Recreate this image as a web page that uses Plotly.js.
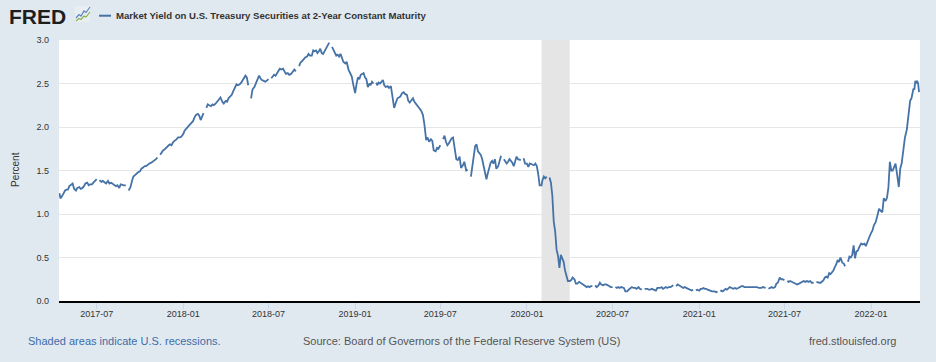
<!DOCTYPE html>
<html><head><meta charset="utf-8">
<script src="https://cdn.plot.ly/plotly-3.0.1.min.js"></script>
<style>html,body{margin:0;padding:0;background:#e1e9f0;} #chart{width:936px;height:362px;}</style>
</head><body><div id="chart"></div>
<script>
const seriesName = "Market Yield on U.S. Treasury Securities at 2-Year Constant Maturity";
const firstDate = "2017-04-13";
const lastDate = "2022-04-16";
const months = ["2017-04","2017-05","2017-06","2017-07","2017-08","2017-09","2017-10","2017-11","2017-12",
"2018-01","2018-02","2018-03","2018-04","2018-05","2018-06","2018-07","2018-08","2018-09","2018-10","2018-11","2018-12",
"2019-01","2019-02","2019-03","2019-04","2019-05","2019-06","2019-07","2019-08","2019-09","2019-10","2019-11","2019-12",
"2020-01","2020-02","2020-03","2020-04","2020-05","2020-06","2020-07","2020-08","2020-09","2020-10","2020-11","2020-12",
"2021-01","2021-02","2021-03","2021-04","2021-05","2021-06","2021-07","2021-08","2021-09","2021-10","2021-11","2021-12",
"2022-01","2022-02","2022-03","2022-04"];
const yields2017 = [
 [1.24,1.18,1.20,1.22,1.25,1.27,1.28],
 [1.28,1.32,1.33,1.35,1.29,1.27,1.30,1.31,1.29],
 [1.30,1.32,1.35,1.36,1.33,1.34,1.34,1.36,1.38],
 [1.40,null,1.39,1.37,1.38,1.36,1.35,1.38,1.35],
 [1.36,1.35,1.34,1.32,1.33,1.30,1.34,1.33,1.33],
 [1.33,null,1.27,1.31,1.38,1.43,1.45,1.47,1.48],
 [1.49,1.52,1.53,1.55,1.55,1.57,1.58,1.59,1.60],
 [1.61,1.63,1.65,null,1.68,1.71,1.73,1.74,1.76,1.78],
 [1.79,1.80,1.79,1.83,1.84,1.86,1.88,1.88,1.89]];
const yields2018 = [
 [1.92,1.96,1.98,2.00,2.02,2.03,2.05,2.07,2.11,2.14],
 [2.15,2.13,2.08,2.13,2.16,null,2.22,2.26,2.25],
 [2.24,2.26,2.25,2.27,2.29,2.31,2.34,2.29,2.27],
 [2.30,2.29,2.33,2.35,2.37,2.41,2.45,2.49,2.48],
 [2.49,2.51,2.54,2.56,2.59,2.57,2.48,null,2.33,2.43],
 [2.46,2.50,2.52,2.59,2.56,2.54,2.53,2.52,2.53],
 [2.55,null,2.56,2.58,2.60,2.59,2.62,2.65,2.67,2.66],
 [2.67,2.64,2.61,2.62,2.60,2.61,2.63,2.66,2.64],
 [null,2.70,2.74,2.76,2.78,2.80,2.81,2.84,2.82],
 [2.82,2.88,2.87,2.88,2.85,2.87,2.90,2.85,2.84,2.87],
 [2.91,2.95,2.97,null,2.92,2.88,2.86,2.82,2.83,2.81],
 [2.84,2.80,2.75,2.73,2.75,2.66,2.63,2.58,2.49]];
const yields2019 = [
 [2.39,2.49,2.57,2.55,2.60,2.61,2.62,2.57,2.55,2.46],
 [2.50,2.48,2.52,2.50,null,2.51,2.48,2.51,2.50,2.52],
 [2.54,2.48,2.46,2.47,2.45,2.47,2.34,2.22,2.27],
 [2.33,2.34,2.35,2.39,2.40,2.38,2.37,2.30,2.28],
 [2.31,2.33,2.29,2.26,2.23,2.21,2.19,2.14,2.04],
 [1.85,1.88,1.83,1.86,1.84,1.73,1.72,1.76,1.75],
 [1.79,null,1.86,1.90,1.83,1.79,1.81,1.84,1.87,1.88],
 [1.73,1.63,1.62,1.66,1.53,1.56,1.60,1.50,1.51],
 [null,1.43,1.55,1.67,1.78,1.80,1.72,1.70,1.68,1.63],
 [1.56,1.47,1.40,1.47,1.55,1.59,1.61,1.58,1.63,1.52],
 [1.55,1.61,1.67,null,1.63,1.60,1.58,1.60,1.63,1.61],
 [1.59,1.55,1.61,1.66,1.63,1.62,1.62,null,1.64,1.58]];
const yields2020 = [
 [1.58,1.54,1.58,1.57,1.56,1.56,1.58,1.55,1.46,1.33],
 [1.33,1.39,1.43,1.41,1.43,null,1.42,1.36,1.21,0.91],
 [0.80,0.59,0.52,0.38,0.53,0.49,0.45,0.35,0.28,0.23],
 [0.23,0.24,0.27,0.25,0.20,0.20,0.22,0.21,0.20],
 [0.19,0.18,0.16,0.17,0.16,0.17,0.17,null,0.18,0.16],
 [0.18,0.21,0.19,0.18,0.19,0.19,0.18,0.17,0.16],
 [0.16,null,0.16,0.15,0.16,0.15,0.16,0.15,0.15,0.11],
 [0.11,0.13,0.14,0.16,0.15,0.15,0.14,0.16,0.14],
 [0.13,null,0.14,0.14,0.14,0.13,0.13,0.14,0.13,0.13],
 [0.12,0.15,0.15,0.15,0.16,0.14,0.15,0.16,0.15,0.16],
 [0.16,0.17,0.18,null,0.17,0.19,0.18,0.17,0.16,0.15],
 [0.16,0.15,0.14,0.13,0.12,0.12,0.13,null,0.12,0.13]];
const yields2021 = [
 [0.12,0.14,0.14,0.15,0.14,0.14,0.13,0.12,0.12,0.11],
 [0.11,0.11,0.10,0.11,null,0.11,0.12,0.11,0.12,0.14],
 [0.13,0.14,0.16,0.15,0.14,0.15,0.14,0.15,0.16],
 [0.17,0.17,0.16,0.16,0.16,0.16,0.16,0.16,0.16],
 [0.16,0.16,0.15,0.15,0.15,0.16,0.15,0.15,null,0.14],
 [0.15,0.16,0.15,0.16,0.20,0.21,0.27,0.25,0.25],
 [0.24,null,0.23,0.22,0.23,0.22,0.22,0.21,0.20,0.19],
 [0.20,0.21,0.21,0.23,0.22,0.23,0.22,0.23,0.21],
 [0.21,null,0.22,0.21,0.21,0.21,0.22,0.24,0.27,0.28],
 [0.27,0.32,0.31,0.33,0.35,0.39,0.42,0.47,0.45,0.50],
 [0.44,0.43,0.40,null,0.45,0.51,0.50,0.53,0.64,0.49],
 [0.57,0.58,0.62,0.66,0.65,0.66,0.63,0.70,0.73]];
const yields2022 = [
 [0.78,0.81,0.87,0.91,0.97,1.06,1.04,1.02,1.18],
 [1.15,1.19,1.31,1.60,1.50,1.50,1.55,1.58,1.47],
 [1.31,1.52,1.58,1.75,1.88,1.97,2.15,2.30,2.33],
 [2.44,2.43,2.53,2.50,2.53,2.50,2.40]];
const recessionStart = "2020-02-01";
const recessionEnd = "2020-04-01";
const xRange = ["2017-04-12","2022-04-15"];
const xTicks = ["2017-07-01","2018-01-01","2018-07-01","2019-01-01","2019-07-01","2020-01-01","2020-07-01","2021-01-01","2021-07-01","2022-01-01"];
const xTickLabels = ["2017-07","2018-01","2018-07","2019-01","2019-07","2020-01","2020-07","2021-01","2021-07","2022-01"];
const yTicks = [0,0.5,1,1.5,2,2.5,3];
const yTickLabels = ["0.0","0.5","1.0","1.5","2.0","2.5","3.0"];

const yields = [].concat(yields2017, yields2018, yields2019, yields2020, yields2021, yields2022);
const dates = [], vals = [];
months.forEach((m, i) => {
  const s = new Date((i === 0 ? firstDate : m + "-01") + "T00:00:00Z").getTime();
  const e = new Date((i === months.length - 1 ? lastDate : months[i + 1] + "-01") + "T00:00:00Z").getTime();
  const arr = yields[i];
  const step = (e - s) / arr.length;
  arr.forEach((v, j) => {
    dates.push(new Date(s + j * step).toISOString().slice(0, 10));
    vals.push(v);
  });
});

// pixel -> paper helpers (plot area: x 59..920, y 40..301)
const L = 59, R = 920, T = 40, B = 301;
const X = px => (px - L) / (R - L);
const Y = py => (B - py) / (B - T);
const path = pts => pts.map((p, i) => (i ? "L" : "M") + X(p[0]).toFixed(5) + "," + Y(p[1]).toFixed(5)).join(" ");

const FONT = '"Liberation Sans", Arial, Helvetica, sans-serif';
const lineBlue = "#4572a7";

const trace = {
  x: dates, y: vals, type: "scatter", mode: "lines", name: seriesName,
  line: {color: lineBlue, width: 1.8}, connectgaps: false, hoverinfo: "x+y"
};

const layout = {
  width: 936, height: 362,
  paper_bgcolor: "#e1e9f0", plot_bgcolor: "#ffffff",
  margin: {l: L, r: 936 - R, t: T, b: 362 - B, pad: 0},
  showlegend: false,
  font: {family: FONT, color: "#333333"},
  xaxis: {
    type: "date", range: xRange, tickvals: xTicks, ticktext: xTickLabels,
    showgrid: false, zeroline: false, showline: true, linecolor: "#000000", linewidth: 2,
    ticks: "outside", ticklen: 6, tickcolor: "#ccd6eb", tickwidth: 1, ticklabelstandoff: -3,
    tickfont: {size: 9, color: "#333333", family: FONT}, fixedrange: true
  },
  yaxis: {
    range: [0, 3], tickvals: yTicks, ticktext: yTickLabels,
    showgrid: true, gridcolor: "#e6e6e6", gridwidth: 1, zeroline: false, showline: false,
    ticks: "", tickfont: {size: 9, color: "#333333", family: FONT}, ticklabelstandoff: 9, fixedrange: true
  },
  shapes: [
    {type: "rect", xref: "x", yref: "paper", x0: recessionStart, x1: recessionEnd, y0: 0, y1: 1,
     fillcolor: "#e5e5e5", line: {width: 0}, layer: "below"},
    {type: "rect", xref: "paper", yref: "paper", x0: X(75), x1: X(90), y0: Y(22), y1: Y(6),
     fillcolor: "#e9eef2", line: {width: 0}},
    {type: "path", xref: "paper", yref: "paper", path: path([[76,21],[79,18.5],[81,19.5],[84,16],[86,17],[90,12]]),
     line: {color: "#8ab34a", width: 1.2}},
    {type: "path", xref: "paper", yref: "paper", path: path([[76,18],[79,14.5],[81,16],[84,11],[86,12.5],[90,7]]),
     line: {color: "#5a86c0", width: 1.2}},
    {type: "line", xref: "paper", yref: "paper", x0: X(99), x1: X(111), y0: Y(15.7), y1: Y(15.7),
     line: {color: lineBlue, width: 2}}
  ],
  annotations: [
    {xref: "paper", yref: "paper", x: X(7), y: Y(17), xanchor: "left", yanchor: "middle", showarrow: false,
     text: "<b>FRED</b>", font: {family: FONT, size: 21, color: "#1e1e1e"}},
    {xref: "paper", yref: "paper", x: X(114), y: Y(15.7), xanchor: "left", yanchor: "middle", showarrow: false,
     text: "<b>" + seriesName + "</b>", font: {family: FONT, size: 9.6, color: "#333333"}},
    {xref: "paper", yref: "paper", x: X(15), y: Y(170), xanchor: "center", yanchor: "middle", showarrow: false,
     textangle: -90, text: "Percent", font: {family: FONT, size: 10, color: "#333333"}},
    {xref: "paper", yref: "paper", x: X(26), y: Y(341), xanchor: "left", yanchor: "middle", showarrow: false,
     text: "Shaded areas indicate U.S. recessions.", font: {family: FONT, size: 11, color: "#3c6ca8"}},
    {xref: "paper", yref: "paper", x: X(301), y: Y(341), xanchor: "left", yanchor: "middle", showarrow: false,
     text: "Source: Board of Governors of the Federal Reserve System (US)", font: {family: FONT, size: 11, color: "#555555"}},
    {xref: "paper", yref: "paper", x: X(898), y: Y(341), xanchor: "right", yanchor: "middle", showarrow: false,
     text: "fred.stlouisfed.org", font: {family: FONT, size: 11, color: "#555555"}}
  ]
};

Plotly.newPlot("chart", [trace], layout, {displayModeBar: false, staticPlot: true});
</script>
</body></html>
